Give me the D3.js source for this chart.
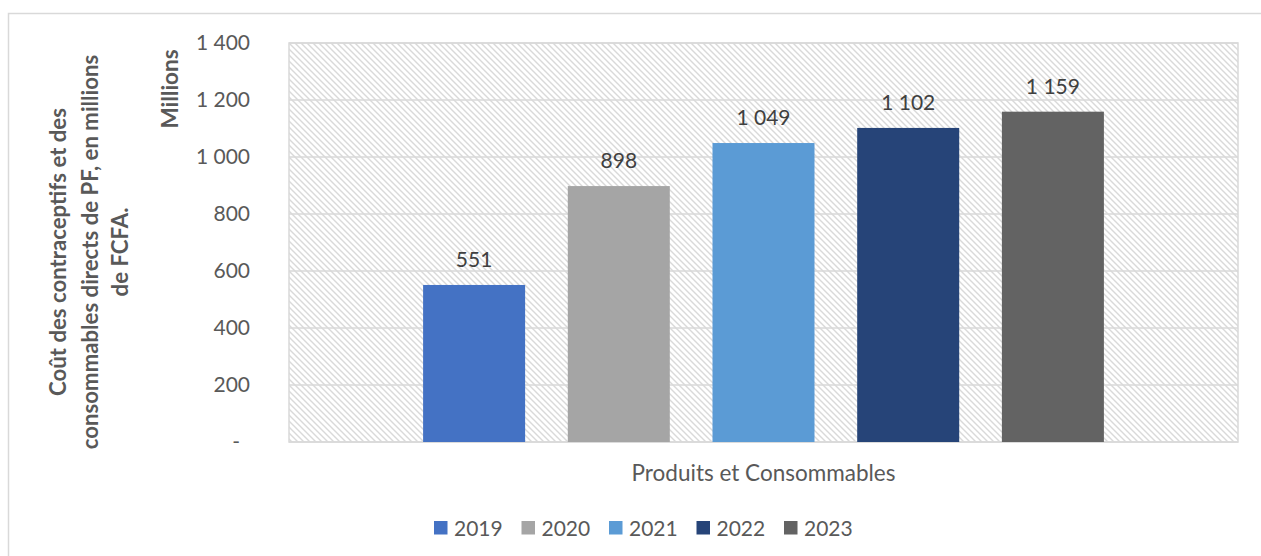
<!DOCTYPE html>
<html>
<head>
<meta charset="utf-8">
<script src="https://cdn.jsdelivr.net/npm/d3@7"></script>
<style>
  html, body { margin: 0; padding: 0; background: #ffffff; }
  svg { display: block; font-family: Lato, "Open Sans", sans-serif; }
</style>
</head>
<body>
<svg id="chart" width="1261" height="556"></svg>
<script>
// Data
const category = "Produits et Consommables";
const years = ["2019", "2020", "2021", "2022", "2023"];
const values = [551, 898, 1049, 1102, 1159];
const colors = ["#4472C4", "#A5A5A5", "#5B9BD5", "#264478", "#636363"];
const yTicks = [0, 200, 400, 600, 800, 1000, 1200, 1400];
const yTitleLines = ["Coût des contraceptifs et des", "consommables directs de PF, en millions", "de FCFA."];
const unitLabel = "Millions";

const svg = d3.select("#chart");
const plot = { left: 289, right: 1238, top: 43, bottom: 442 };

// French-style thousands separator
const fr = d3.formatLocale({ decimal: ",", thousands: " ", grouping: [3], currency: ["", ""] });
const fmt = fr.format(",.0f");
const fmtTick = d => d === 0 ? "-" : fmt(d);

// Hatched fill for the plot area
const defs = svg.append("defs");
const pat = defs.append("pattern")
  .attr("id", "hatch")
  .attr("patternUnits", "userSpaceOnUse")
  .attr("width", 6).attr("height", 6);
pat.append("rect").attr("width", 6).attr("height", 6).attr("fill", "#ffffff");
pat.append("path")
  .attr("d", "M-1,-1 L7,7 M-1,5 L1,7 M5,-1 L7,1")
  .attr("stroke", "#d9d9d9").attr("stroke-width", 1.4);

// Outer chart frame
svg.append("rect")
  .attr("x", 8.5).attr("y", 13.5)
  .attr("width", 1400).attr("height", 700)
  .attr("fill", "none").attr("stroke", "#d9d9d9").attr("stroke-width", 1.5);

// Scales
const y = d3.scaleLinear().domain([0, 1400]).range([plot.bottom, plot.top]);
const x0 = d3.scaleBand().domain([category]).range([plot.left, plot.right]).paddingOuter(0.1405).paddingInner(0);
const groupPad = (x0.bandwidth() - 680.8) / 2;
const x1 = d3.scaleBand().domain(years)
  .range([x0(category) + groupPad, x0(category) + x0.bandwidth() - groupPad])
  .paddingInner(0.295).paddingOuter(0);

// Plot background
svg.append("rect")
  .attr("x", plot.left).attr("y", plot.top)
  .attr("width", plot.right - plot.left).attr("height", plot.bottom - plot.top)
  .attr("fill", "url(#hatch)");

// Gridlines
svg.append("g")
  .selectAll("line")
  .data(yTicks)
  .join("line")
  .attr("x1", plot.left).attr("x2", plot.right)
  .attr("y1", d => y(d)).attr("y2", d => y(d))
  .attr("stroke", "#d9d9d9").attr("stroke-width", 1.5);

// Plot border
svg.append("rect")
  .attr("x", plot.left).attr("y", plot.top)
  .attr("width", plot.right - plot.left).attr("height", plot.bottom - plot.top)
  .attr("fill", "none").attr("stroke", "#d9d9d9").attr("stroke-width", 1.5);

// Bars
svg.append("g")
  .selectAll("rect")
  .data(years.map((yr, i) => ({ yr, v: values[i], c: colors[i] })))
  .join("rect")
  .attr("x", d => x1(d.yr))
  .attr("y", d => y(d.v))
  .attr("width", x1.bandwidth())
  .attr("height", d => y(0) - y(d.v))
  .attr("fill", d => d.c);

// Value labels
svg.append("g")
  .selectAll("text")
  .data(years.map((yr, i) => ({ yr, v: values[i] })))
  .join("text")
  .attr("x", d => x1(d.yr) + x1.bandwidth() / 2)
  .attr("y", d => y(d.v) - 18)
  .attr("text-anchor", "middle")
  .attr("fill", "#404040")
  .attr("font-size", 21)
  .text(d => fmt(d.v));

// Y axis
const yAxis = svg.append("g")
  .attr("transform", `translate(250,0)`)
  .call(d3.axisLeft(y).tickValues(yTicks).tickFormat(fmtTick).tickSize(0).tickPadding(0));
yAxis.select(".domain").remove();
yAxis.selectAll("text")
  .attr("fill", "#595959")
  .attr("font-size", 21)
  .attr("font-family", "Lato, 'Open Sans', sans-serif")
  .attr("dx", d => d === 0 ? -10 : 0);

// X axis category label
svg.append("text")
  .attr("x", x0(category) + x0.bandwidth() / 2)
  .attr("y", 481)
  .attr("text-anchor", "middle")
  .attr("fill", "#595959")
  .attr("font-size", 22.5)
  .text(category);

// Unit label
svg.append("text")
  .attr("transform", "translate(178,89) rotate(-90)")
  .attr("text-anchor", "middle")
  .attr("fill", "#595959")
  .attr("font-weight", "bold")
  .attr("font-size", 22.5)
  .text(unitLabel);

// Y axis title
const titleX = [66, 98, 128];
yTitleLines.forEach((line, i) => {
  svg.append("text")
    .attr("transform", `translate(${titleX[i]},252) rotate(-90)`)
    .attr("text-anchor", "middle")
    .attr("fill", "#595959")
    .attr("font-weight", "bold")
    .attr("font-size", 22.2)
    .text(line);
});

// Legend
const legend = svg.append("g")
  .selectAll("g")
  .data(years.map((yr, i) => ({ yr, c: colors[i], i })))
  .join("g")
  .attr("transform", d => `translate(${434 + d.i * 87.5},521)`);
legend.append("rect")
  .attr("width", 13.5).attr("height", 13.5)
  .attr("fill", d => d.c);
legend.append("text")
  .attr("x", 20).attr("y", 14.5)
  .attr("fill", "#595959")
  .attr("font-size", 21)
  .text(d => d.yr);
</script>
</body>
</html>
